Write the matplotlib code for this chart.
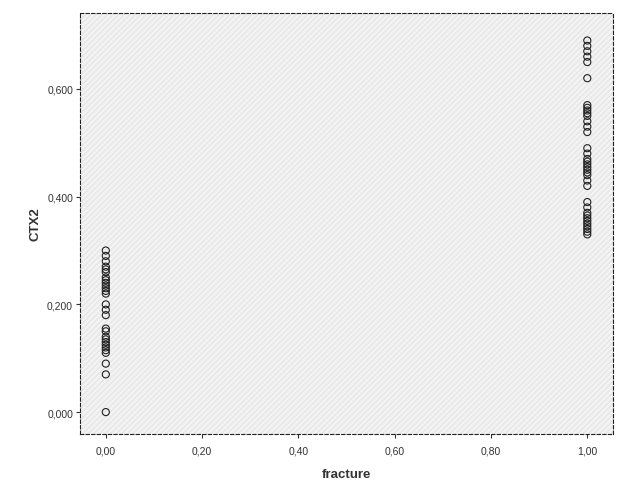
import matplotlib
matplotlib.use("Agg")
import matplotlib.pyplot as plt
from matplotlib.ticker import FixedLocator
from matplotlib.patches import Rectangle

plt.rcParams['font.family'] = ['Liberation Sans', 'DejaVu Sans']

# Data
fracture_0 = [0.30, 0.29, 0.28, 0.27, 0.265, 0.26, 0.25, 0.245, 0.24, 0.235, 0.23,
              0.225, 0.22, 0.20, 0.19, 0.18, 0.155, 0.15, 0.14, 0.135, 0.13, 0.125,
              0.12, 0.115, 0.11, 0.09, 0.07, 0.0]
fracture_1 = [0.69, 0.68, 0.67, 0.66, 0.65, 0.62, 0.57, 0.565, 0.56, 0.555, 0.55,
              0.54, 0.53, 0.52, 0.49, 0.48, 0.47, 0.465, 0.46, 0.455, 0.45, 0.445,
              0.44, 0.43, 0.42, 0.39, 0.38, 0.37, 0.365, 0.36, 0.355, 0.35, 0.345,
              0.34, 0.335, 0.33]
xticks = [0.0, 0.2, 0.4, 0.6, 0.8, 1.0]
xticklabels = ["0,00", "0,20", "0,40", "0,60", "0,80", "1,00"]
yticks = [0.0, 0.2, 0.4, 0.6]
yticklabels = ["0,000", "0,200", "0,400", "0,600"]

fig = plt.figure(figsize=(6.27, 5.02), dpi=100)
ax = fig.add_axes([80 / 627, 1 - 435 / 502, (613.3 - 80) / 627, (435 - 13.5) / 502])
ax.set_facecolor("#f3f3f3")
ax.add_patch(Rectangle((0, 0), 1, 1, transform=ax.transAxes, facecolor="none",
                       edgecolor="#e6e6e6", hatch="//////", linewidth=0, zorder=0))

xs = [0.0] * len(fracture_0) + [1.0] * len(fracture_1)
ys = fracture_0 + fracture_1
ax.scatter(xs, ys, s=26, facecolors="none", edgecolors="#222222", linewidths=0.8, zorder=3)

ax.set_xlim(-0.0536, 1.054)
ax.set_ylim(-0.0407, 0.742)
ax.xaxis.set_major_locator(FixedLocator(xticks))
ax.set_xticklabels(xticklabels)
ax.yaxis.set_major_locator(FixedLocator(yticks))
ax.set_yticklabels(yticklabels)
ax.tick_params(direction="out", length=3, width=0.8, color="#333333",
               labelsize=7.5, labelcolor="#333333")
ax.tick_params(axis="x", pad=5)
ax.tick_params(axis="y", pad=2)

for s in ax.spines.values():
    s.set_linestyle((0, (3, 2)))
    s.set_linewidth(0.8)
    s.set_color("#222222")

ax.set_xlabel("fracture", fontsize=9.5, fontweight="bold", color="#333333", labelpad=9)
ax.set_ylabel("CTX2", fontsize=9.5, fontweight="bold", color="#333333", labelpad=4)

fig.savefig("out.png", dpi=100)
